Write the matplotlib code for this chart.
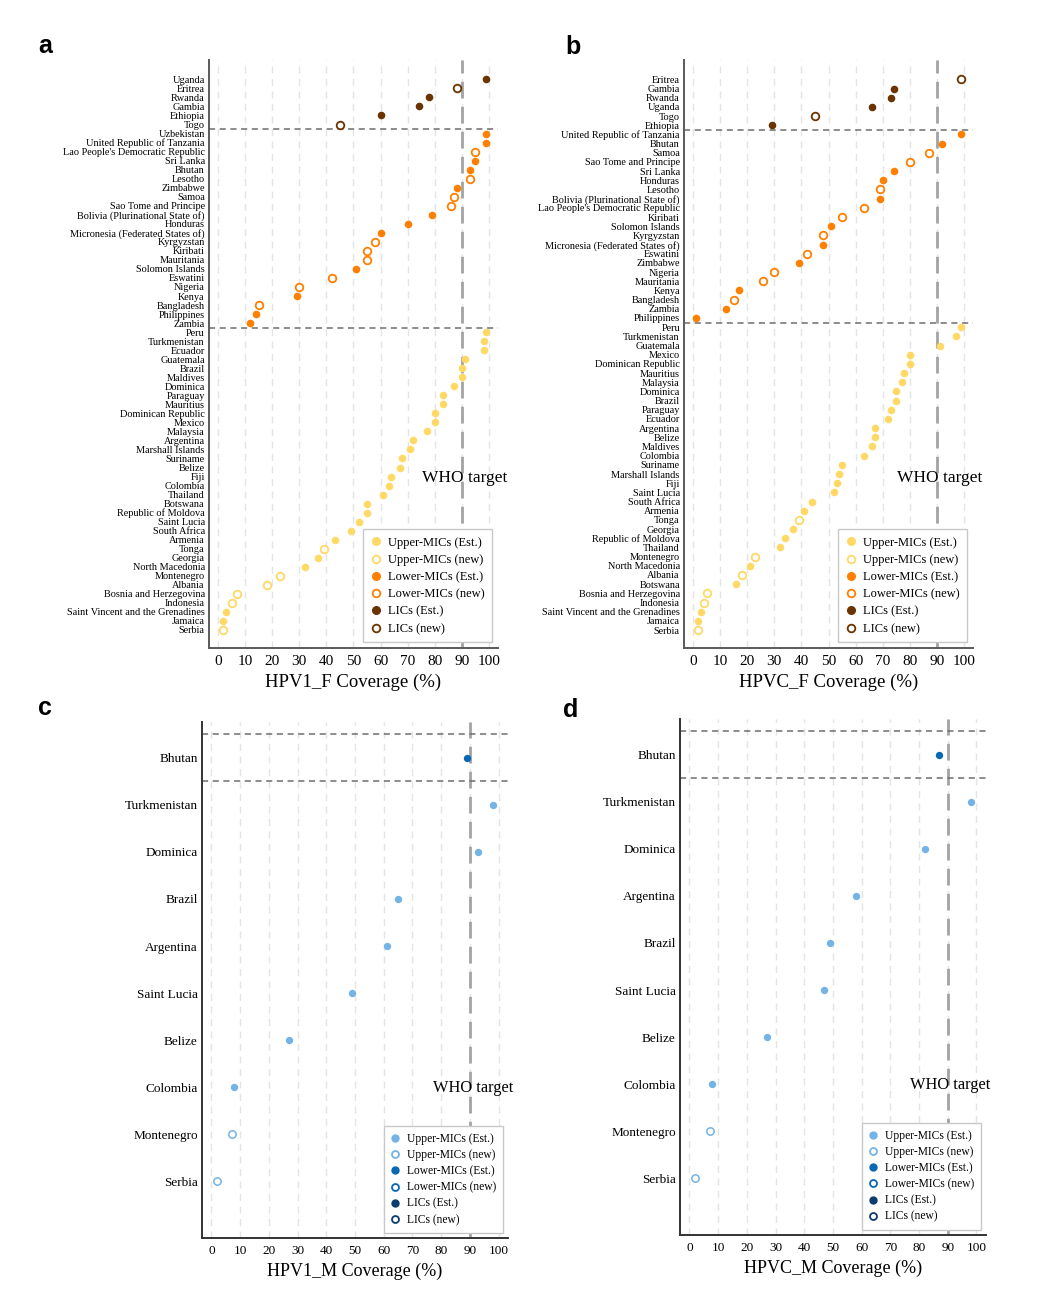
"""Dot plots of HPV vaccine coverage by country income group (panels a-d)."""

import matplotlib
matplotlib.use("Agg")
import matplotlib.pyplot as plt
from matplotlib.lines import Line2D

plt.rcParams["font.family"] = ["Liberation Serif", "DejaVu Serif"]

# ---------------- panel a: HPV1_F ----------------
A_LIC = ["Uganda", "Eritrea", "Rwanda", "Gambia", "Ethiopia", "Togo"]
A_LIC_VAL = [99, 88, 78, 74, 60, 45]
A_LIC_NEW = [0, 1, 0, 0, 0, 1]

A_LMIC = ["Uzbekistan", "United Republic of Tanzania",
          "Lao People's Democratic Republic", "Sri Lanka", "Bhutan", "Lesotho",
          "Zimbabwe", "Samoa", "Sao Tome and Principe",
          "Bolivia (Plurinational State of)", "Honduras",
          "Micronesia (Federated States of)", "Kyrgyzstan", "Kiribati",
          "Mauritania", "Solomon Islands", "Eswatini", "Nigeria", "Kenya",
          "Bangladesh", "Philippines", "Zambia"]
A_LMIC_VAL = [99, 99, 95, 95, 93, 93, 88, 87, 86, 79, 70, 60, 58, 55, 55, 51,
              42, 30, 29, 15, 14, 12]
A_LMIC_NEW = [0, 0, 1, 0, 0, 1, 0, 1, 1, 0, 0, 0, 1, 1, 1, 0, 1, 1, 0, 1, 0, 0]

A_UMIC = ["Peru", "Turkmenistan", "Ecuador", "Guatemala", "Brazil", "Maldives",
          "Dominica", "Paraguay", "Mauritius", "Dominican Republic", "Mexico",
          "Malaysia", "Argentina", "Marshall Islands", "Suriname", "Belize",
          "Fiji", "Colombia", "Thailand", "Botswana", "Republic of Moldova",
          "Saint Lucia", "South Africa", "Armenia", "Tonga", "Georgia",
          "North Macedonia", "Montenegro", "Albania", "Bosnia and Herzegovina",
          "Indonesia", "Saint Vincent and the Grenadines", "Jamaica", "Serbia"]
A_UMIC_VAL = [99, 98, 98, 91, 90, 90, 87, 83, 83, 80, 80, 77, 72, 71, 68, 67,
              64, 63, 61, 55, 55, 52, 49, 43, 39, 37, 32, 23, 18, 7, 5, 3, 2, 2]
A_UMIC_NEW = [0] * 24 + [1, 0, 0, 1, 1, 1, 1, 0, 0, 1]

# ---------------- panel b: HPVC_F ----------------
B_LIC = ["Eritrea", "Gambia", "Rwanda", "Uganda", "Togo", "Ethiopia"]
B_LIC_VAL = [99, 74, 73, 66, 45, 29]
B_LIC_NEW = [1, 0, 0, 0, 1, 0]

B_LMIC = ["United Republic of Tanzania", "Bhutan", "Samoa",
          "Sao Tome and Principe", "Sri Lanka", "Honduras", "Lesotho",
          "Bolivia (Plurinational State of)", "Lao People's Democratic Republic",
          "Kiribati", "Solomon Islands", "Kyrgyzstan",
          "Micronesia (Federated States of)", "Eswatini", "Zimbabwe", "Nigeria",
          "Mauritania", "Kenya", "Bangladesh", "Zambia", "Philippines"]
B_LMIC_VAL = [99, 92, 87, 80, 74, 70, 69, 69, 63, 55, 51, 48, 48, 42, 39, 30,
              26, 17, 15, 12, 1]
B_LMIC_NEW = [0, 0, 1, 1, 0, 0, 1, 0, 1, 1, 0, 1, 0, 1, 0, 1, 1, 0, 1, 0, 0]

B_UMIC = ["Peru", "Turkmenistan", "Guatemala", "Mexico", "Dominican Republic",
          "Mauritius", "Malaysia", "Dominica", "Brazil", "Paraguay", "Ecuador",
          "Argentina", "Belize", "Maldives", "Colombia", "Suriname",
          "Marshall Islands", "Fiji", "Saint Lucia", "South Africa", "Armenia",
          "Tonga", "Georgia", "Republic of Moldova", "Thailand", "Montenegro",
          "North Macedonia", "Albania", "Botswana", "Bosnia and Herzegovina",
          "Indonesia", "Saint Vincent and the Grenadines", "Jamaica", "Serbia"]
B_UMIC_VAL = [99, 97, 91, 80, 80, 78, 77, 75, 75, 73, 72, 67, 67, 66, 63, 55,
              54, 53, 52, 44, 41, 39, 37, 34, 32, 23, 21, 18, 16, 5, 4, 3, 2, 2]
B_UMIC_NEW = [0] * 21 + [1, 0, 0, 0, 1, 0, 1, 0, 1, 1, 0, 0, 1]

# ---------------- panel c: HPV1_M ----------------
C_LMIC = ["Bhutan"]
C_LMIC_VAL = [89]
C_LMIC_NEW = [0]
C_UMIC = ["Turkmenistan", "Dominica", "Brazil", "Argentina", "Saint Lucia",
          "Belize", "Colombia", "Montenegro", "Serbia"]
C_UMIC_VAL = [98, 93, 65, 61, 49, 27, 8, 7, 2]
C_UMIC_NEW = [0, 0, 0, 0, 0, 0, 0, 1, 1]

# ---------------- panel d: HPVC_M ----------------
D_LMIC = ["Bhutan"]
D_LMIC_VAL = [87]
D_LMIC_NEW = [0]
D_UMIC = ["Turkmenistan", "Dominica", "Argentina", "Brazil", "Saint Lucia",
          "Belize", "Colombia", "Montenegro", "Serbia"]
D_UMIC_VAL = [98, 82, 58, 49, 47, 27, 8, 7, 2]
D_UMIC_NEW = [0, 0, 0, 0, 0, 0, 0, 1, 1]

WHO_TARGET = 90
X_TICKS = list(range(0, 101, 10))

WARM = {"UMIC": "#FFD966", "LMIC": "#FF7F00", "LIC": "#6B3300"}
COOL = {"UMIC": "#74B3E6", "LMIC": "#0868B4", "LIC": "#0B3C6E"}
LEGEND_NAMES = [("UMIC", "Upper-MICs"), ("LMIC", "Lower-MICs"), ("LIC", "LICs")]


def draw_panel(ax, groups, colors, xlabel, style):
    n = sum(len(g[1]) for g in groups)
    y = n - 1
    ticks, labels, bounds = [], [], []
    for key, names, vals, new in groups:
        c = colors[key]
        for name, v, f in zip(names, vals, new):
            if f:
                ax.scatter(v, y, s=style["s"], facecolor="white", edgecolor=c,
                           linewidth=style["ring"], zorder=4)
            else:
                ax.scatter(v, y, s=style["s"], color=c, linewidth=0, zorder=4)
            ticks.append(y)
            labels.append(name)
            y -= 1
        bounds.append(y + 0.5)

    for b in bounds[:-1]:
        ax.axhline(b, color="#6e6e6e", lw=1.1, linestyle=(0, (4, 3)), zorder=2)

    ax.set_xticks(X_TICKS)
    ax.grid(axis="x", color="#e4e4e4", lw=1.0, linestyle=(0, (5, 4)), zorder=0)
    ax.axvline(WHO_TARGET, color="#a3a3a3", lw=2.0, linestyle=(0, (6, 3)), zorder=1)
    ax.set_axisbelow(True)

    ax.set_xlim(-3.3, 103.3)
    ax.set_ylim(-style["bot"], n - 1 + style["top"])
    ax.set_yticks(ticks)
    ax.set_yticklabels(labels, fontsize=style["yfs"])
    ax.tick_params(axis="y", length=0, pad=3)
    ax.tick_params(axis="x", length=0, pad=5, labelsize=style["xfs"])
    ax.set_xlabel(xlabel, fontsize=style["lfs"], labelpad=4)

    for side in ("top", "right"):
        ax.spines[side].set_visible(False)
    for side in ("left", "bottom"):
        ax.spines[side].set_color(style["spine"])
        ax.spines[side].set_linewidth(1.4)

    ax.text(91, 0.29, "WHO target", transform=ax.get_xaxis_transform(),
            ha="center", va="center", fontsize=style["wfs"], zorder=5,
            clip_on=False)

    handles = []
    for key, name in LEGEND_NAMES:
        c = colors[key]
        handles.append(Line2D([], [], ls="none", marker="o", ms=style["lms"],
                              mfc=c, mec=c, label=f"{name} (Est.)"))
        handles.append(Line2D([], [], ls="none", marker="o", ms=style["lms"],
                              mfc="white", mec=c, mew=1.3, label=f"{name} (new)"))
    leg = ax.legend(handles=handles, loc="lower right", fontsize=style["gfs"],
                    frameon=True, fancybox=False, edgecolor="#c8c8c8",
                    framealpha=1, handlelength=0.8, handletextpad=0.6,
                    labelspacing=style["gsp"], borderpad=0.6,
                    borderaxespad=0.45)
    leg.get_frame().set_linewidth(1.0)
    leg.set_zorder(6)


TOP_STYLE = dict(s=30, ring=1.3, yfs=7.4, xfs=11, lfs=13.5, wfs=12.5,
                 lms=5.5, gfs=9, gsp=0.42, top=2.14, bot=2.0, spine="#5a5a5a")
BOT_STYLE = dict(s=28, ring=1.1, yfs=9.5, xfs=9.5, lfs=13, wfs=11.8,
                 lms=5, gfs=8.3, gsp=0.36, top=0.76, bot=1.2, spine="#333333")


def main():
    fig = plt.figure(figsize=(10.44, 13.06), dpi=100)
    ax_a = fig.add_axes([0.2002, 0.5038, 0.2768, 0.4502])
    ax_b = fig.add_axes([0.6552, 0.5038, 0.2768, 0.4502])
    ax_c = fig.add_axes([0.1935, 0.0521, 0.2931, 0.3951])
    ax_d = fig.add_axes([0.6513, 0.0545, 0.2931, 0.3951])

    draw_panel(ax_a, [("LIC", A_LIC, A_LIC_VAL, A_LIC_NEW),
                      ("LMIC", A_LMIC, A_LMIC_VAL, A_LMIC_NEW),
                      ("UMIC", A_UMIC, A_UMIC_VAL, A_UMIC_NEW)],
               WARM, "HPV1_F Coverage (%)", TOP_STYLE)
    draw_panel(ax_b, [("LIC", B_LIC, B_LIC_VAL, B_LIC_NEW),
                      ("LMIC", B_LMIC, B_LMIC_VAL, B_LMIC_NEW),
                      ("UMIC", B_UMIC, B_UMIC_VAL, B_UMIC_NEW)],
               WARM, "HPVC_F Coverage (%)", dict(TOP_STYLE, top=2.1, bot=1.96))
    draw_panel(ax_c, [("LIC", [], [], []),
                      ("LMIC", C_LMIC, C_LMIC_VAL, C_LMIC_NEW),
                      ("UMIC", C_UMIC, C_UMIC_VAL, C_UMIC_NEW)],
               COOL, "HPV1_M Coverage (%)", BOT_STYLE)
    draw_panel(ax_d, [("LIC", [], [], []),
                      ("LMIC", D_LMIC, D_LMIC_VAL, D_LMIC_NEW),
                      ("UMIC", D_UMIC, D_UMIC_VAL, D_UMIC_NEW)],
               COOL, "HPVC_M Coverage (%)", BOT_STYLE)

    for letter, px, py in [("a", 45, 46), ("b", 573, 47), ("c", 45, 708), ("d", 571, 710)]:
        fig.text(px / 1044, 1 - py / 1306, letter, family="Liberation Sans",
                 fontweight="bold", fontsize=18, ha="center", va="center")

    fig.savefig("out.png", dpi=100)
    plt.close(fig)


if __name__ == "__main__":
    main()
